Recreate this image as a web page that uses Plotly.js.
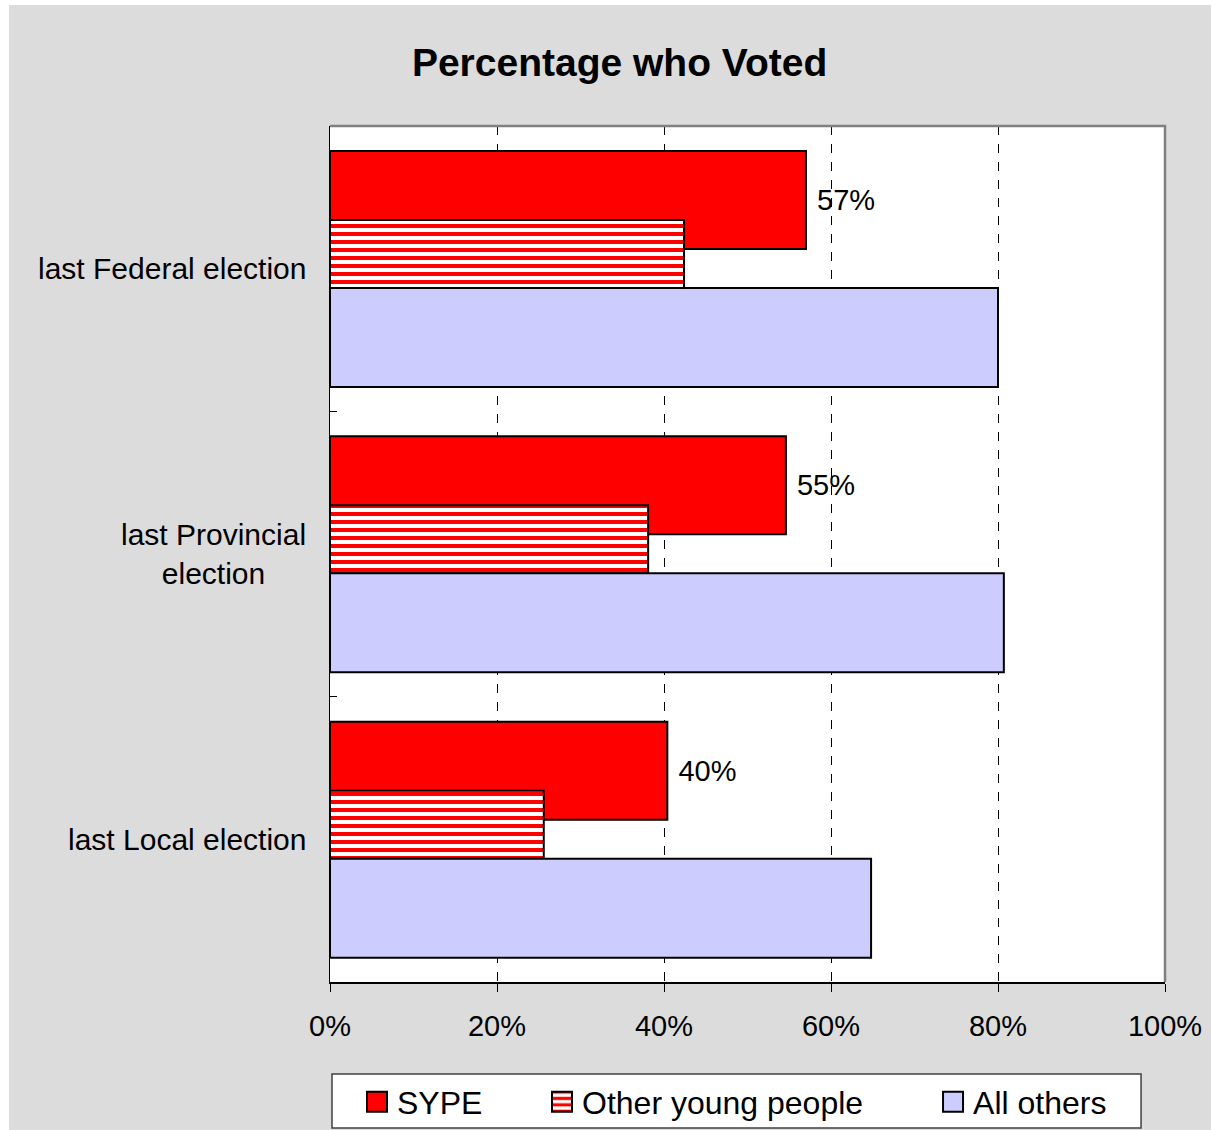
<!DOCTYPE html>
<html>
<head>
<meta charset="utf-8">
<script src="https://cdn.plot.ly/plotly-3.0.1.min.js"></script>
<style>
  html, body { margin: 0; padding: 0; background: #ffffff; }
  #chart { position: absolute; left: 9px; top: 5px; width: 1202px; height: 1125px; }
</style>
</head>
<body>
<div id="chart"></div>
<script>
// ---- data ----
const categories = ['last Federal election', 'last Provincial election', 'last Local election'];
const categoryLabels = ['last Federal election', 'last Provincial<br>election', 'last Local election'];
const sype = [57.0, 54.6, 40.4];
const otherYoung = [42.4, 38.1, 25.6];
const allOthers = [80.0, 80.7, 64.8];
const seriesNames = ['SYPE', 'Other young people', 'All others'];
const xTickVals = [0, 20, 40, 60, 80, 100];
const xTickText = ['0%', '20%', '40%', '60%', '80%', '100%'];

const FONT = 'Arial, "Liberation Sans", sans-serif';
const outline = { color: '#000000', width: 2 };

const traces = [
  {
    type: 'bar', orientation: 'h', name: seriesNames[0],
    y: categories, x: sype,
    offset: -0.4124, width: 0.3435,
    marker: { color: '#FF0000', line: outline },
    texttemplate: '\u00a0%{x:.0f}%', textposition: 'outside',
    textfont: { family: FONT, size: 29, color: '#000000' },
    constraintext: 'none', cliponaxis: false,
    legend: 'legend', hoverinfo: 'x+name'
  },
  {
    type: 'bar', orientation: 'h', name: seriesNames[1],
    y: categories, x: otherYoung,
    offset: -0.1706, width: 0.2383,
    marker: {
      color: '#FFFFFF', line: outline,
      pattern: { shape: '-', fgcolor: '#FF0000', bgcolor: '#FFFFFF', size: 8, solidity: 0.5, fillmode: 'replace' }
    },
    legend: 'legend2', hoverinfo: 'x+name'
  },
  {
    type: 'bar', orientation: 'h', name: seriesNames[2],
    y: categories, x: allOthers,
    offset: 0.0678, width: 0.347,
    marker: { color: '#CCCCFF', line: outline },
    legend: 'legend3', hoverinfo: 'x+name'
  }
];

const annotations = categories.map((c, i) => ({
  xref: 'paper', yref: 'y', x: 0, y: c, xshift: -22,
  xanchor: 'right', yanchor: 'middle', align: 'center',
  text: categoryLabels[i], showarrow: false,
  font: { family: FONT, size: 30, color: '#000000' }
}));

const legendCommon = {
  orientation: 'h', yanchor: 'middle', y: -0.140, xanchor: 'left',
  bgcolor: 'rgba(0,0,0,0)', borderwidth: 0,
  font: { family: FONT, size: 32, color: '#000000' }
};

const layout = {
  width: 1202, height: 1125,
  paper_bgcolor: '#DCDCDC', plot_bgcolor: '#FFFFFF',
  margin: { l: 321, r: 46, t: 121, b: 148, pad: 0, autoexpand: false },
  font: { family: FONT, color: '#000000' },
  title: {
    text: 'Percentage who Voted', xref: 'container', yref: 'container',
    x: 0.508, xanchor: 'center', y: 0.9493, yanchor: 'middle',
    font: { family: FONT, size: 39, weight: 'bold', color: '#000000' }
  },
  barmode: 'overlay',
  xaxis: {
    range: [0, 100], tickvals: xTickVals, ticktext: xTickText,
    showgrid: true, gridcolor: '#000000', gridwidth: 1, griddash: 'dash',
    zeroline: false, showline: true, linecolor: '#000000', linewidth: 1.5,
    ticks: 'outside', ticklen: 8, tickcolor: '#000000', tickwidth: 1,
    ticklabelstandoff: 10,
    tickfont: { family: FONT, size: 29, color: '#000000' }, fixedrange: true
  },
  yaxis: {
    type: 'category', categoryorder: 'array', categoryarray: categories,
    range: [2.5, -0.5], showticklabels: false,
    showgrid: false, zeroline: false, showline: true, linecolor: '#000000', linewidth: 1.5,
    ticks: 'inside', tickson: 'boundaries', ticklen: 7, tickcolor: '#000000', tickwidth: 1,
    fixedrange: true
  },
  showlegend: true,
  legend: Object.assign({}, legendCommon, { x: 0.0323 }),
  legend2: Object.assign({}, legendCommon, { x: 0.2539 }),
  legend3: Object.assign({}, legendCommon, { x: 0.7222 }),
  annotations: annotations,
  shapes: [
    { type: 'path', xref: 'paper', yref: 'paper', path: 'M0,1 L1,1 L1,0',
      line: { color: '#808080', width: 2.5 }, layer: 'above' },
    { type: 'rect', xref: 'paper', yref: 'paper', x0: 0.0024, x1: 0.9713, y0: -0.1706, y1: -0.1075,
      line: { color: '#404040', width: 1.5 }, fillcolor: '#FFFFFF', layer: 'below' }
  ]
};

Plotly.newPlot('chart', traces, layout, { displayModeBar: false, staticPlot: true }).then(function () {
  document.querySelectorAll('#chart .legendpoints path.legendundefined').forEach(function (p) {
    p.setAttribute('d', 'M10,10H-10V-10H10Z');
  });
});
</script>
</body>
</html>
